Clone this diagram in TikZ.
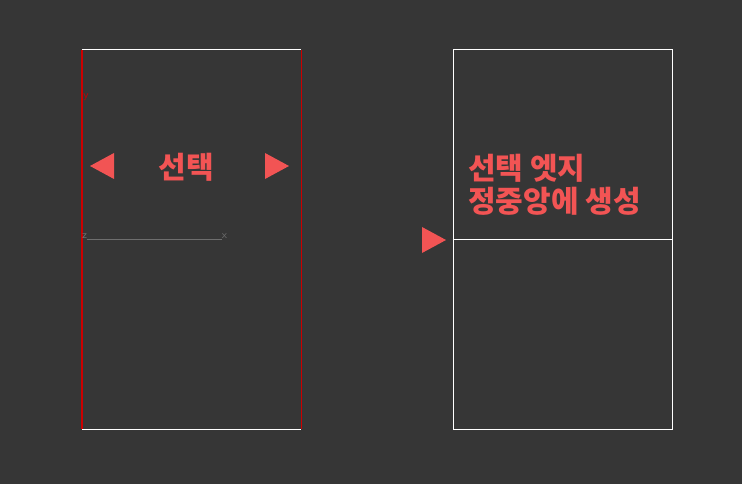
\documentclass[tikz,border=0pt]{standalone}
\usepackage{fontspec}
\newfontfamily\kofont{Noto Sans CJK KR}
\usetikzlibrary{positioning}
\definecolor{bgGray}{RGB}{54,54,54}
\definecolor{markRed}{RGB}{242,84,84}
\definecolor{edgeRed}{RGB}{204,0,0}
\definecolor{axisGray}{RGB}{110,110,110}
\tikzset{
  frame/.style={white,line width=0.75pt},
  redEdge/.style={edgeRed},
  marker/.style={fill=markRed,draw=none},
  label/.style={text=markRed,font=\kofont\bfseries\fontsize{22.5}{24.5}\selectfont,inner sep=0pt},
  axisLabel/.style={font=\sffamily\fontsize{8}{8}\selectfont,inner sep=0pt},
}
\begin{document}
\begin{tikzpicture}[x=0.75pt,y=-0.75pt,line join=miter]
%%
\fill[bgGray] (0,0) rectangle (742,484);
\useasboundingbox (0,0) rectangle (742,484);
% left panel
\coordinate (left_nw) at (82,50);
\coordinate (left_ne) at (301,50);
\coordinate (left_sw) at (82,429);
\coordinate (left_se) at (301,429);
\draw[frame] (left_nw) -- (left_ne);
\draw[frame] (left_sw) -- (left_se);
\draw[redEdge,line width=1.5pt] (left_nw) -- (left_sw);
\draw[redEdge,line width=0.75pt] (left_ne) -- (left_se);
\node (axis_y) at (86,97) [axisLabel,text=edgeRed] {y};
\node (axis_z) at (84.5,236.5) [axisLabel,text=axisGray] {z};
\node (axis_x) at (224.5,236.5) [axisLabel,text=axisGray] {x};
\coordinate (axis_0) at (87,240);
\coordinate (axis_1) at (222,240);
\draw[axisGray,line width=0.75pt] (axis_0) -- (axis_1);
\node (label_0) at (186,167) [label] {선택};
\fill[marker] (90,166) -- (114,153) -- (114,179) -- cycle;
\fill[marker] (289,166) -- (265,153) -- (265,179) -- cycle;
% right panel
\node (right_box) at (562.5,239.5) [draw=white,line width=0.75pt,minimum width=219*0.75pt,minimum height=379*0.75pt,inner sep=0pt] {};
\draw[frame] (right_box.west) -- (right_box.east);
\fill[marker] (446,240) -- (422,227) -- (422,253) -- cycle;
\node (label_1) at (468,184.5) [label,anchor=west,align=left] {선택 엣지\\정중앙에 생성};
%
\end{tikzpicture}
\end{document}
